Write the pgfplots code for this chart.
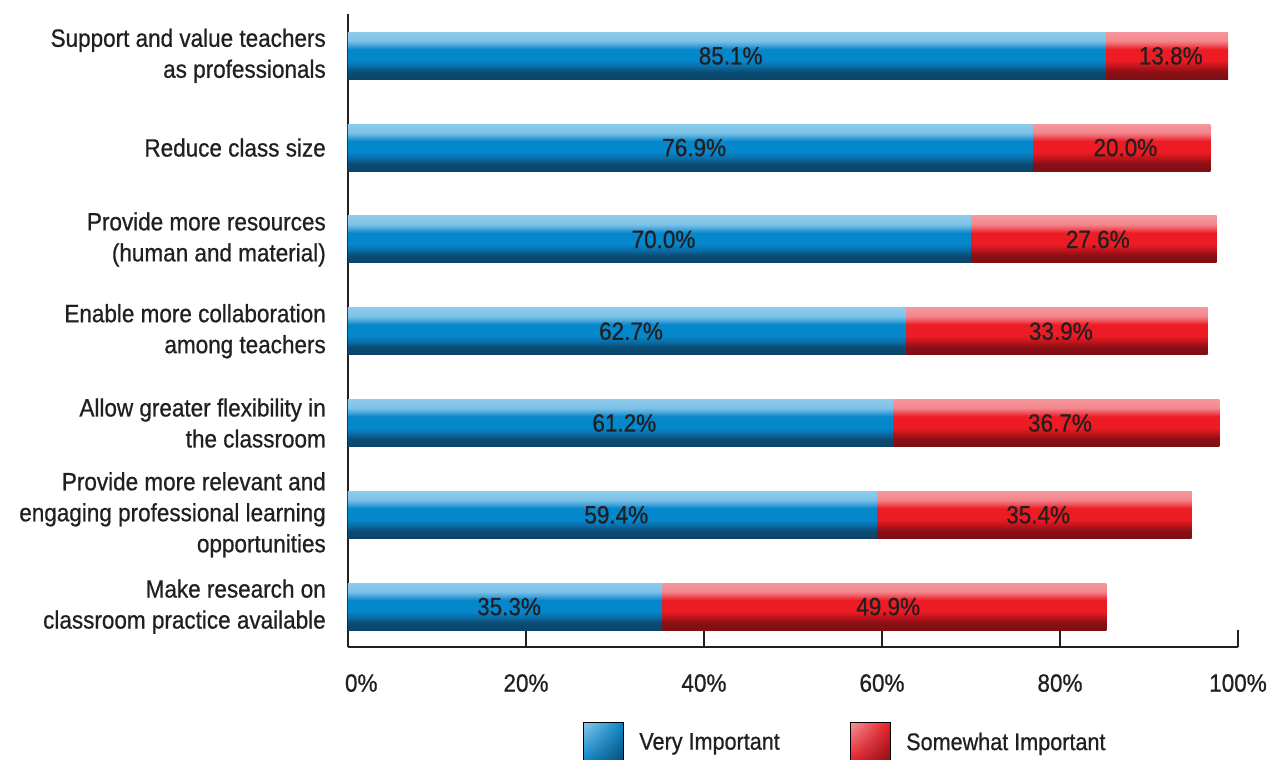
\documentclass[border=0pt]{standalone}
\usepackage{pgfplots}
\usepackage{pgfplotstable}
\pgfplotsset{compat=1.18}
\usetikzlibrary{shadings}
\usepackage{fontspec}
\setmainfont{Liberation Sans}[FakeStretch=0.9, FakeBold=0.7]
\definecolor{txt}{HTML}{231F20}
\definecolor{bdd}{HTML}{0A4468}
\definecolor{bd}{HTML}{0B4C74}
\definecolor{bm2}{HTML}{0A6DA8}
\definecolor{bm}{HTML}{0587CB}
\definecolor{bl3}{HTML}{4FA9DC}
\definecolor{bl2}{HTML}{7CC2E8}
\definecolor{bl}{HTML}{8DCBEB}
\definecolor{rdd}{HTML}{7E0E13}
\definecolor{rd}{HTML}{8A1016}
\definecolor{rm2}{HTML}{C0141B}
\definecolor{rm}{HTML}{ED1C24}
\definecolor{rl3}{HTML}{F05A62}
\definecolor{rl2}{HTML}{F3868D}
\definecolor{rl}{HTML}{F5979C}
\pgfdeclareverticalshading{bluebar}{100bp}{color(0bp)=(bdd); color(25bp)=(bdd); color(33bp)=(bd); color(39bp)=(bm2); color(45bp)=(bm); color(57bp)=(bm); color(62bp)=(bl3); color(66bp)=(bl2); color(75bp)=(bl); color(100bp)=(bl)}
\pgfdeclareverticalshading{redbar}{100bp}{color(0bp)=(rdd); color(25bp)=(rdd); color(33bp)=(rd); color(39bp)=(rm2); color(45bp)=(rm); color(57bp)=(rm); color(62bp)=(rl3); color(66bp)=(rl2); color(75bp)=(rl); color(100bp)=(rl)}
% y: category index (top to bottom); v: Very Important; w: Somewhat Important
\pgfplotstableread{
y v w
0 85.1 13.8
1 76.9 20.0
2 70.0 27.6
3 62.7 33.9
4 61.2 36.7
5 59.4 35.4
6 35.3 49.9
}\data
\begin{document}
\begin{tikzpicture}
\useasboundingbox (-348pt,-113pt) rectangle (930pt,647pt);
\begin{axis}[
  x=8.9pt, y=91.8pt, y dir=reverse,
  xmin=0, xmax=100, ymin=-0.46, ymax=6.44,
  axis x line*=bottom, axis y line*=left,
  axis line style={txt, line width=2pt},
  xtick={0,20,40,60,80,100},
  xticklabels={\makebox[0pt][l]{\hspace{-3pt}0\%},20\%,40\%,60\%,80\%,100\%},
  x tick style={txt, line width=2pt},
  major tick length=17pt, tick align=inside,
  ytick={0,1,2,3,4,5,6},
  y tick style={draw=none},
  yticklabels={{Support and value teachers\\as professionals},
    {Reduce class size},
    {Provide more resources\\(human and material)},
    {Enable more collaboration\\among teachers},
    {Allow greater flexibility in\\the classroom},
    {Provide more relevant and\\engaging professional learning\\opportunities},
    {Make research on\\classroom practice available}},
  yticklabel style={align=right, font=\fontsize{25}{31}\selectfont, text=txt, inner sep=0pt, xshift=-22pt},
  xticklabel style={font=\fontsize{25}{31}\selectfont, text=txt, inner sep=0pt, anchor=north, yshift=-27pt},
  legend columns=2,
  legend style={draw=none, fill=none, inner sep=0pt, outer sep=0pt,
    at={(axis description cs:0.264,-0.1183)}, anchor=north west,
    font=\fontsize{24}{28}\selectfont, text=txt, column sep=16pt,
    nodes={inner sep=0pt},
    /tikz/every even column/.append style={column sep=70pt}},
  clip=false,
]
\pgfplotsinvokeforeach{0,...,6}{
  \addplot[xbar, bar width=47pt, draw=none, shade, shading=redbar, forget plot,
    restrict expr to domain={\coordindex}{#1:#1}]
    table[x expr=\thisrow{v}+\thisrow{w}, y=y] {\data};
  \addplot[xbar, bar width=47pt, draw=none, shade, shading=bluebar, forget plot,
    restrict expr to domain={\coordindex}{#1:#1}]
    table[x=v, y=y] {\data};
}
\addplot[only marks, mark=none, forget plot, point meta=explicit symbolic,
  nodes near coords={\pgfplotspointmeta\%}, nodes near coords align={center},
  every node near coord/.append style={anchor=center, font=\fontsize{25}{31}\selectfont, text=txt, inner sep=0pt, xshift=4pt}]
  table[x expr=\thisrow{v}/2, y=y, meta=v] {\data};
\addplot[only marks, mark=none, forget plot, point meta=explicit symbolic,
  nodes near coords={\pgfplotspointmeta\%}, nodes near coords align={center},
  every node near coord/.append style={anchor=center, font=\fontsize{25}{31}\selectfont, text=txt, inner sep=0pt, xshift=4pt}]
  table[x expr=\thisrow{v}+\thisrow{w}/2, y=y, meta=w] {\data};
\addlegendimage{legend image code/.code={\shade[upper left=bl, upper right=bm, lower left=bm, lower right=bd] (0pt,-20pt) rectangle (40pt,20pt);}}
\addlegendentry{Very Important}
\addlegendimage{legend image code/.code={\shade[upper left=rl, upper right=rm, lower left=rm, lower right=rd] (0pt,-20pt) rectangle (40pt,20pt);}}
\addlegendentry{Somewhat Important}
\end{axis}
\end{tikzpicture}
\end{document}
